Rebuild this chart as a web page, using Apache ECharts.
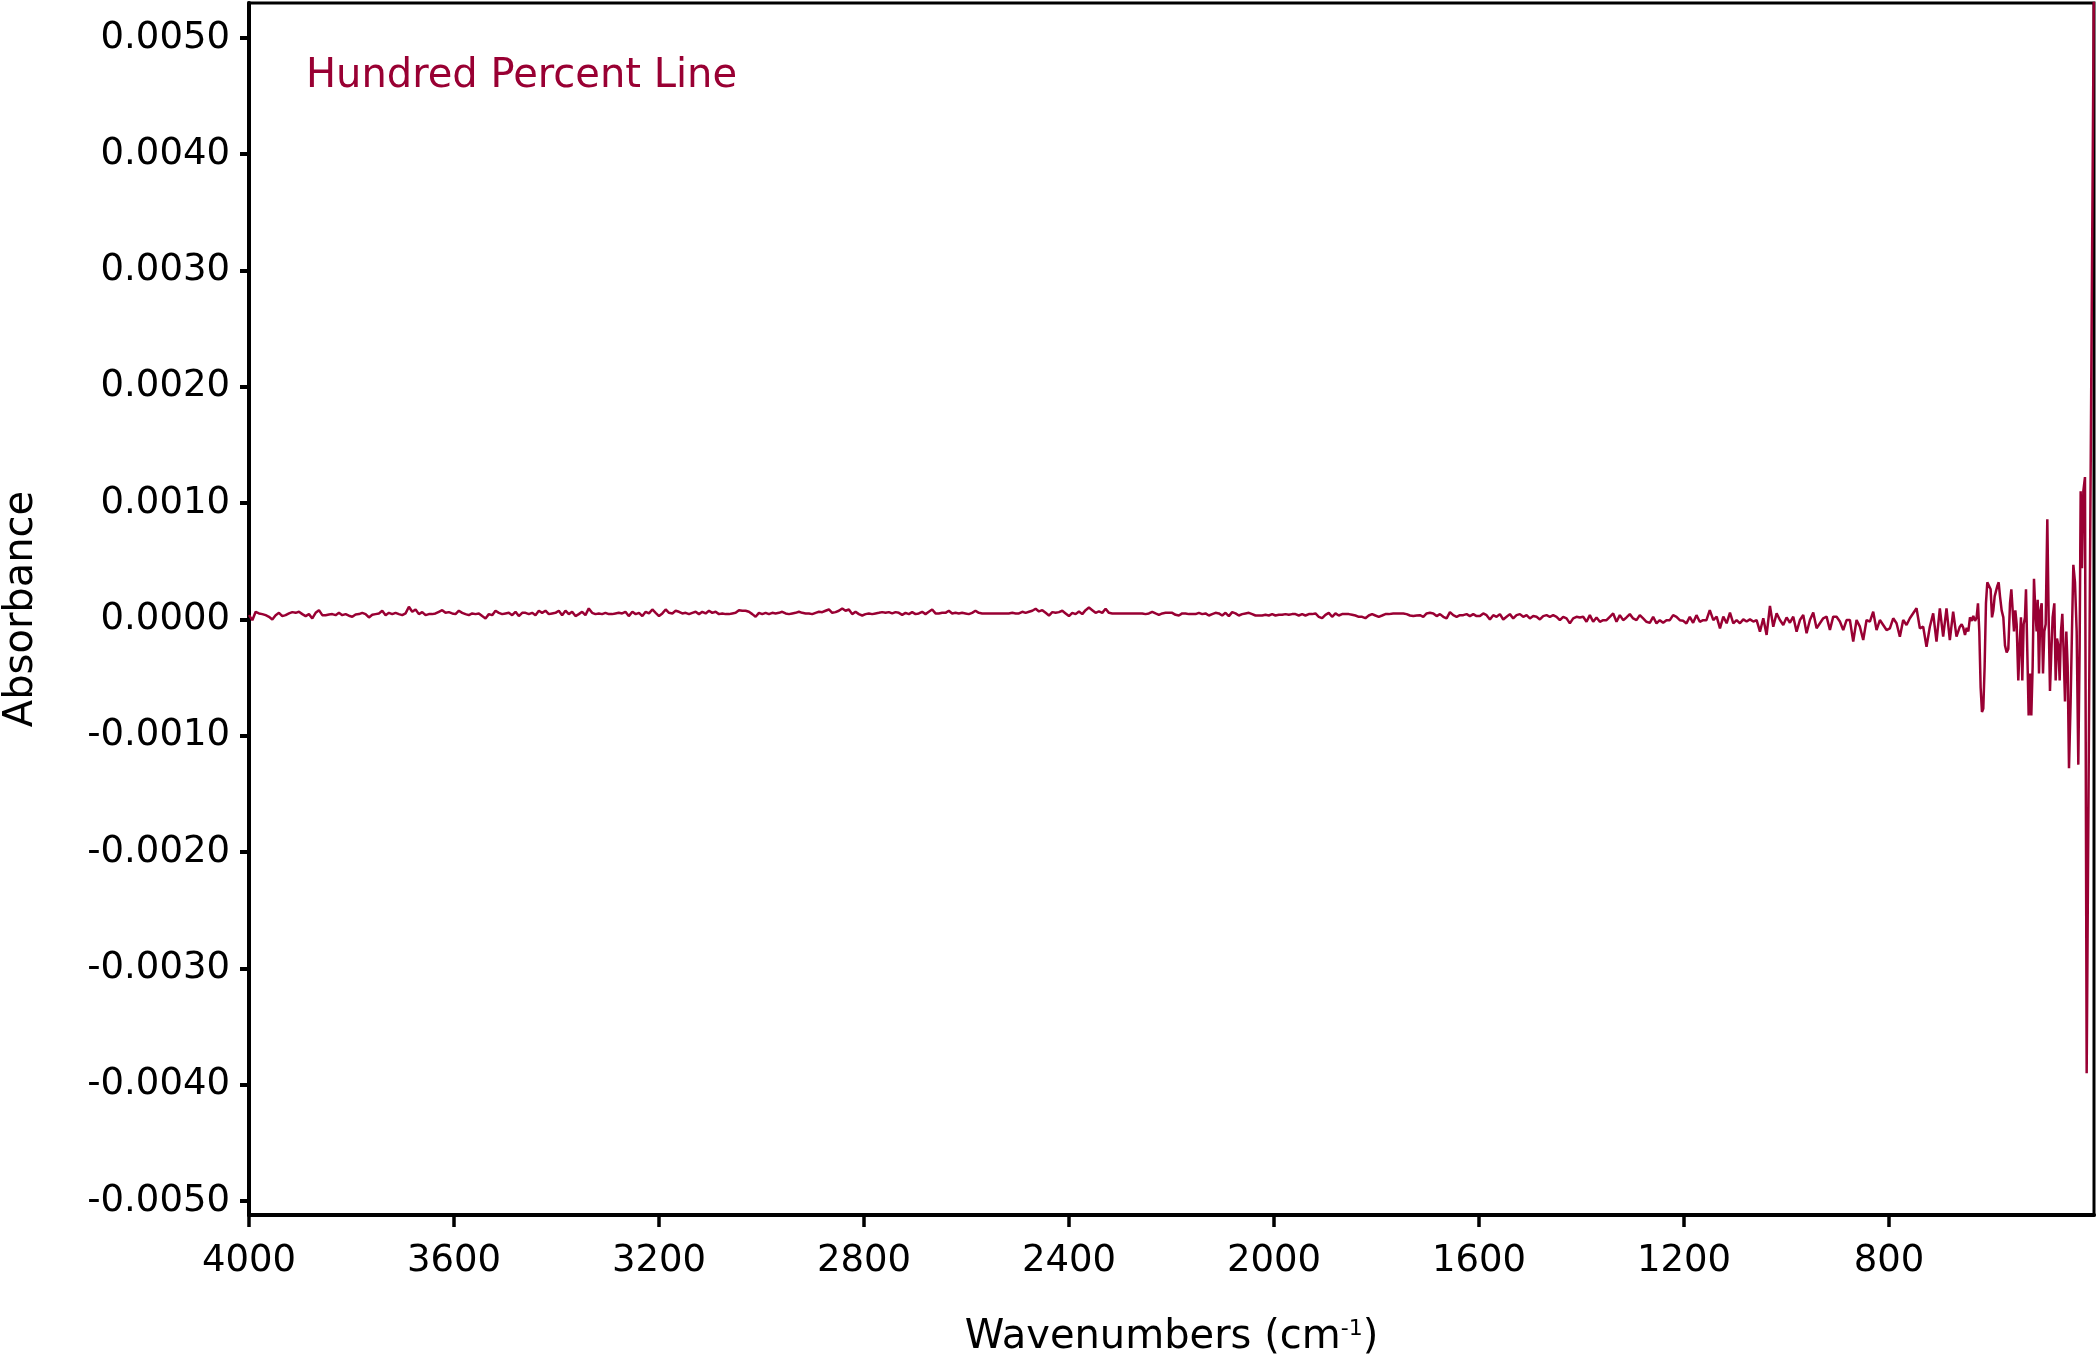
<!DOCTYPE html>
<html>
<head>
<meta charset="utf-8">
<script src="https://cdn.jsdelivr.net/npm/echarts@6/dist/echarts.min.js"></script>
<style>
html,body{margin:0;padding:0;background:#ffffff;}
#chart{width:2097px;height:1359px;}
</style>
</head>
<body>
<div id="chart"></div>
<script>
// ---- data (absorbance values are in units of 1e-5 Abs) ----
const ABS_UNIT = 1e-5;
const SAMPLE_STEP = 6.5; // cm-1 between read-off samples in the uniform segments

const segAStart = 4000.0;
const segA = [3.7,-0.6,6.6,5.2,4.6,3.7,2.3,0,3.7,5.7,
  2.9,3.7,5.2,6.3,5.7,6.6,4.6,2.9,4.6,0.9,
  5.7,8.0,3.7,3.7,4.3,4.6,3.7,5.7,3.7,4.6,
  3.2,2.3,4.3,4.6,5.7,4.6,1.7,4.0,4.6,5.2,
  7.5,3.7,5.7,4.6,5.7,4.6,3.7,5.2,10.9,6.6,
  8.6,4.6,6.3,3.7,4.6,4.6,5.2,6.6,8.0,5.7,
  6.3,5.2,4.6,7.5,5.7,4.6,3.7,5.2,4.6,5.2,
  2.9,0.9,4.6,3.7,7.5,5.7,4.6,5.2,5.7,3.7,
  6.6,2.9,5.7,5.7,4.6,5.7,3.7,7.5,5.7,7.5,
  4.6,5.2,5.7,7.5,3.7,7.5,4.6,6.6,2.9,4.6,
  6.6,3.7,9.5,5.7,4.6,5.2,4.6,5.7,4.6,4.6,
  5.2,5.7,5.2,6.6,2.9];

const segBStart = 3252.0;
const segB = [6.6,4.6,5.7,2.9,6.6,5.2,8.6,5.7,2.9,5.2,
  8.6,5.7,5.2,7.5,6.6,5.2,5.7,4.6,5.7,6.6,
  4.6,6.6,5.2,7.5,5.7,6.6,4.6,5.2,4.6,4.6,
  5.2,5.7,8.0,7.5,7.5,6.6,4.6,2.3,5.7,4.6,
  5.7,4.6,5.7,5.2,5.7,6.6,5.2,4.6,5.2,5.7,
  6.6,5.7,5.2,5.2,4.6,5.7,6.6,6.3,7.5,8.6,
  5.7,6.3,7.5,9.5,7.5,8.6,4.6,6.6,4.6,3.4,
  4.6,5.2,4.6,5.2,5.7,6.3,5.7,6.3,5.2,6.3,
  5.7,4.0,5.7,4.6,6.3,4.6,5.2,6.6,4.6,6.6,
  8.6,5.2,5.2,5.7,5.7,7.5,5.2,5.7,5.2,5.7,
  5.2,4.6,5.7,7.5,5.7,5.2,5.2,5.2,5.2,5.2,
  5.2,5.2,5.2,5.2];

const segCStart = 2510.6;
const segC = [5.7,5.2,5.2,6.6,5.7,6.6,7.5,9.2,6.9,8.0,
  5.7,3.4,6.3,5.7,6.3,7.5,5.2,2.9,5.7,4.6,
  6.9,4.6,8.0,10.3,8.0,5.7,6.9,5.7,9.2,5.7,
  5.2,5.2,5.2,5.2,5.2,5.2,5.2,5.2,5.2,5.2,
  4.6,5.2,6.6,5.2,4.0,5.2,5.7,5.7,5.7,4.0,
  3.4,5.2,5.2,4.6,4.6,4.6,5.7,4.6,5.2,3.4,
  4.6,5.7,5.2,3.4,5.7,2.9,6.3,5.2,3.4,4.6,
  5.2,5.7,4.6,3.4,3.4,3.4,4.0,3.4,4.6,3.4,
  4.0,4.0,4.6,4.0,4.6,4.6,3.4,4.6,3.4,4.6,
  4.6,5.2,2.3,1.1,4.0,5.7,2.3,5.2,3.4,4.6,
  4.6,4.6,4.0,3.4,2.3,2.3,1.1,3.4,4.6,3.4,
  2.3,3.4,4.6,4.6];

const segDStart = 1773.7;
const segD = [5.2,5.2,5.2,5.2,5.2,4.6,3.4,2.9,3.4,3.7,
  2.3,5.2,5.7,5.2,2.9,4.6,2.3,0.9,6.3,3.7,
  2.3,3.7,3.7,4.6,2.9,4.6,2.9,2.9,5.2,3.7,
  0,3.7,2.3,4.6,0,2.3,4.6,0.9,3.7,4.6,
  2.3,3.7,0.9,2.9,2.3,0,2.9,3.7,2.3,3.7,
  2.3,-0.6,2.3,0.9,-3.4,0.9,2.3,1.7,2.3,-2.0,
  3.7,-2.0,1.7,-2.0,-0.6,-0.6,2.3,5.2,-2.0,3.7,
  -0.6,1.7,4.6,0.9,-0.6,3.7,0.9,-2.0,-2.9,2.3,
  -3.4,-0.6,-2.9,-0.6,-0.6,3.7,2.3,-0.6,-1.1,-3.4,
  2.3,-2.9,3.7,-2.0,-0.6,-0.6,8.0];

const segEStart = 1142.8;
const segE = [-0.5,2.4,-7.6,2.4,-3.3,5.9,-3.3,-0.5,-3.3,0.1,
  -1.8,0.1,-1.8,-0.5,-10.5,1.0,-13.3,11.6,-6.2,5.3,
  -0.5,-4.8,1.8,-2.8,2.4,-10.5,-0.5,3.8,-11.9,-0.5,
  5.9,-7.6,-3.3,1.0,2.4,-9.1,2.4,2.4,-1.8,-9.1,
  -0.5,-0.5,-19.1,-0.5,-6.2,-17.7,-0.5,-1.8,6.7,-9.1,
  -0.5,-4.8,-9.1,-7.6,1.0,-3.3,-14.8,-0.5,-4.8,1.0,
  5.3,9.6,-7.6,-6.2,-23.4,-6.2,5.3,-19.1,9.6,-14.8,
  9.6,-17.7,6.7,-14.8,-6.2];

const farWn = [658.2,655.0,651.7,648.5,645.2,642.0,638.7,635.5,632.2,629.0,
  626.4,623.8,621.2,618.6,616.0,613.4,610.8,608.2,604.3,601.7,
  599.0,596.4,593.8,591.2,588.6,586.0,583.4,580.2,576.9,573.7,
  570.4,567.2,563.9,561.3,558.7,556.1,553.5,550.9,547.7,545.1,
  542.5,539.9,537.3,534.7,532.7,530.1,527.5,524.9,522.3,519.7,
  517.1,514.5,511.9,509.9,507.3,504.7,502.1,499.5,496.9,494.3,
  491.1,488.5,485.9,483.3,480.7,477.4,474.8,472.2,469.6,467.0,
  464.4,461.8,459.2,456.6,454.0,451.4,448.8,445.6,443.0,440.3,
  437.1,433.8,430.6,428.0,426.0,423.4,420.8,417.6,414.3,400.0];
const farAbs = [-4.2,-7.2,-13.3,-7.2,-10.3,1.8,-1.2,3.0,-1.2,1.8,
  13.9,-10.3,-58.5,-79.6,-76.6,-40.4,13.9,32.0,32.0,25.9,
  1.8,7.8,19.9,19.9,28.9,32.0,19.9,7.8,1.8,-22.3,
  -28.3,-25.3,13.9,25.9,7.8,-10.3,7.8,-4.2,-52.5,-22.3,
  1.8,-52.5,-4.2,1.8,25.9,-28.3,-82.6,-46.4,-82.6,-40.4,
  35.0,7.8,-10.3,16.9,-46.4,7.8,13.9,-46.4,-10.3,-4.2,
  86.2,1.8,-61.5,-28.3,1.8,13.9,-52.5,-16.3,-22.3,-52.5,
  -10.3,4.8,-28.3,-70.6,-10.3,-40.4,-127.8,-70.6,-10.3,47.0,
  32.0,-10.3,-124.8,-22.3,110.3,44.0,110.3,122.4,-390.1,560];

const yTicks = [-0.005,-0.004,-0.003,-0.002,-0.001,0,0.001,0.002,0.003,0.004,0.005];
const xTicks = [800,1200,1600,2000,2400,2800,3200,3600,4000];
const chartTitle = 'Hundred Percent Line';
const xName = 'Wavenumbers (cm{sup|-1})';
const yName = 'Absorbance';

// ---- build series ----
const spectrum = [];
function addSegment(start, vals) {
  vals.forEach((v, i) => spectrum.push([start - i * SAMPLE_STEP, v * ABS_UNIT]));
}
addSegment(segAStart, segA);
addSegment(segBStart, segB);
addSegment(segCStart, segC);
addSegment(segDStart, segD);
addSegment(segEStart, segE);
farWn.forEach((w, i) => spectrum.push([w, farAbs[i] * ABS_UNIT]));

const FONT = 'DejaVu Sans';
const LINE_COLOR = '#990033';

const chart = echarts.init(document.getElementById('chart'), null, {renderer: 'canvas'});
chart.setOption({
  animation: false,
  backgroundColor: '#ffffff',
  grid: {
    left: 249, right: 3, top: 3, bottom: 144,
    containLabel: false,
    outerBoundsMode: 'none',
    show: true, borderColor: '#000000', borderWidth: 3, backgroundColor: 'transparent'
  },
  xAxis: {
    type: 'value',
    inverse: true,
    min: 400, max: 4000,
    name: xName,
    nameLocation: 'middle',
    nameGap: 103,
    nameTextStyle: {
      fontFamily: FONT, fontSize: 40, color: '#000',
      rich: { sup: { fontFamily: FONT, fontSize: 22, color: '#000', padding: [0, 0, 18, 0] } }
    },
    axisLine: { show: true, onZero: false, lineStyle: { color: '#000', width: 4 } },
    axisTick: { show: true, inside: false, length: 12, lineStyle: { color: '#000', width: 3.5 }, customValues: xTicks },
    axisLabel: { show: true, margin: 28, fontFamily: FONT, fontSize: 37, color: '#000', customValues: xTicks,
      formatter: v => String(Math.round(v)) },
    splitLine: { show: false }
  },
  yAxis: {
    type: 'value',
    min: -0.00512, max: 0.0053,
    name: yName,
    nameLocation: 'middle',
    nameGap: 207,
    nameTextStyle: { fontFamily: FONT, fontSize: 40, color: '#000' },
    axisLine: { show: true, onZero: false, lineStyle: { color: '#000', width: 4 } },
    axisTick: { show: true, inside: false, length: 9, lineStyle: { color: '#000', width: 4 }, customValues: yTicks },
    axisLabel: { show: true, margin: 19, fontFamily: FONT, fontSize: 37, color: '#000', customValues: yTicks,
      formatter: v => { const s = Number(v).toFixed(4); return s === '-0.0000' ? '0.0000' : s; } },
    splitLine: { show: false }
  },
  graphic: [{
    type: 'text',
    left: 306,
    top: 57,
    style: { text: chartTitle, fill: LINE_COLOR, fontFamily: FONT, fontSize: 40 }
  }],
  series: [{
    type: 'line',
    data: spectrum,
    showSymbol: false,
    symbol: 'none',
    clip: true,
    sampling: null,
    lineStyle: { color: LINE_COLOR, width: 2.5 },
    z: 3
  }]
});
</script>
</body>
</html>
